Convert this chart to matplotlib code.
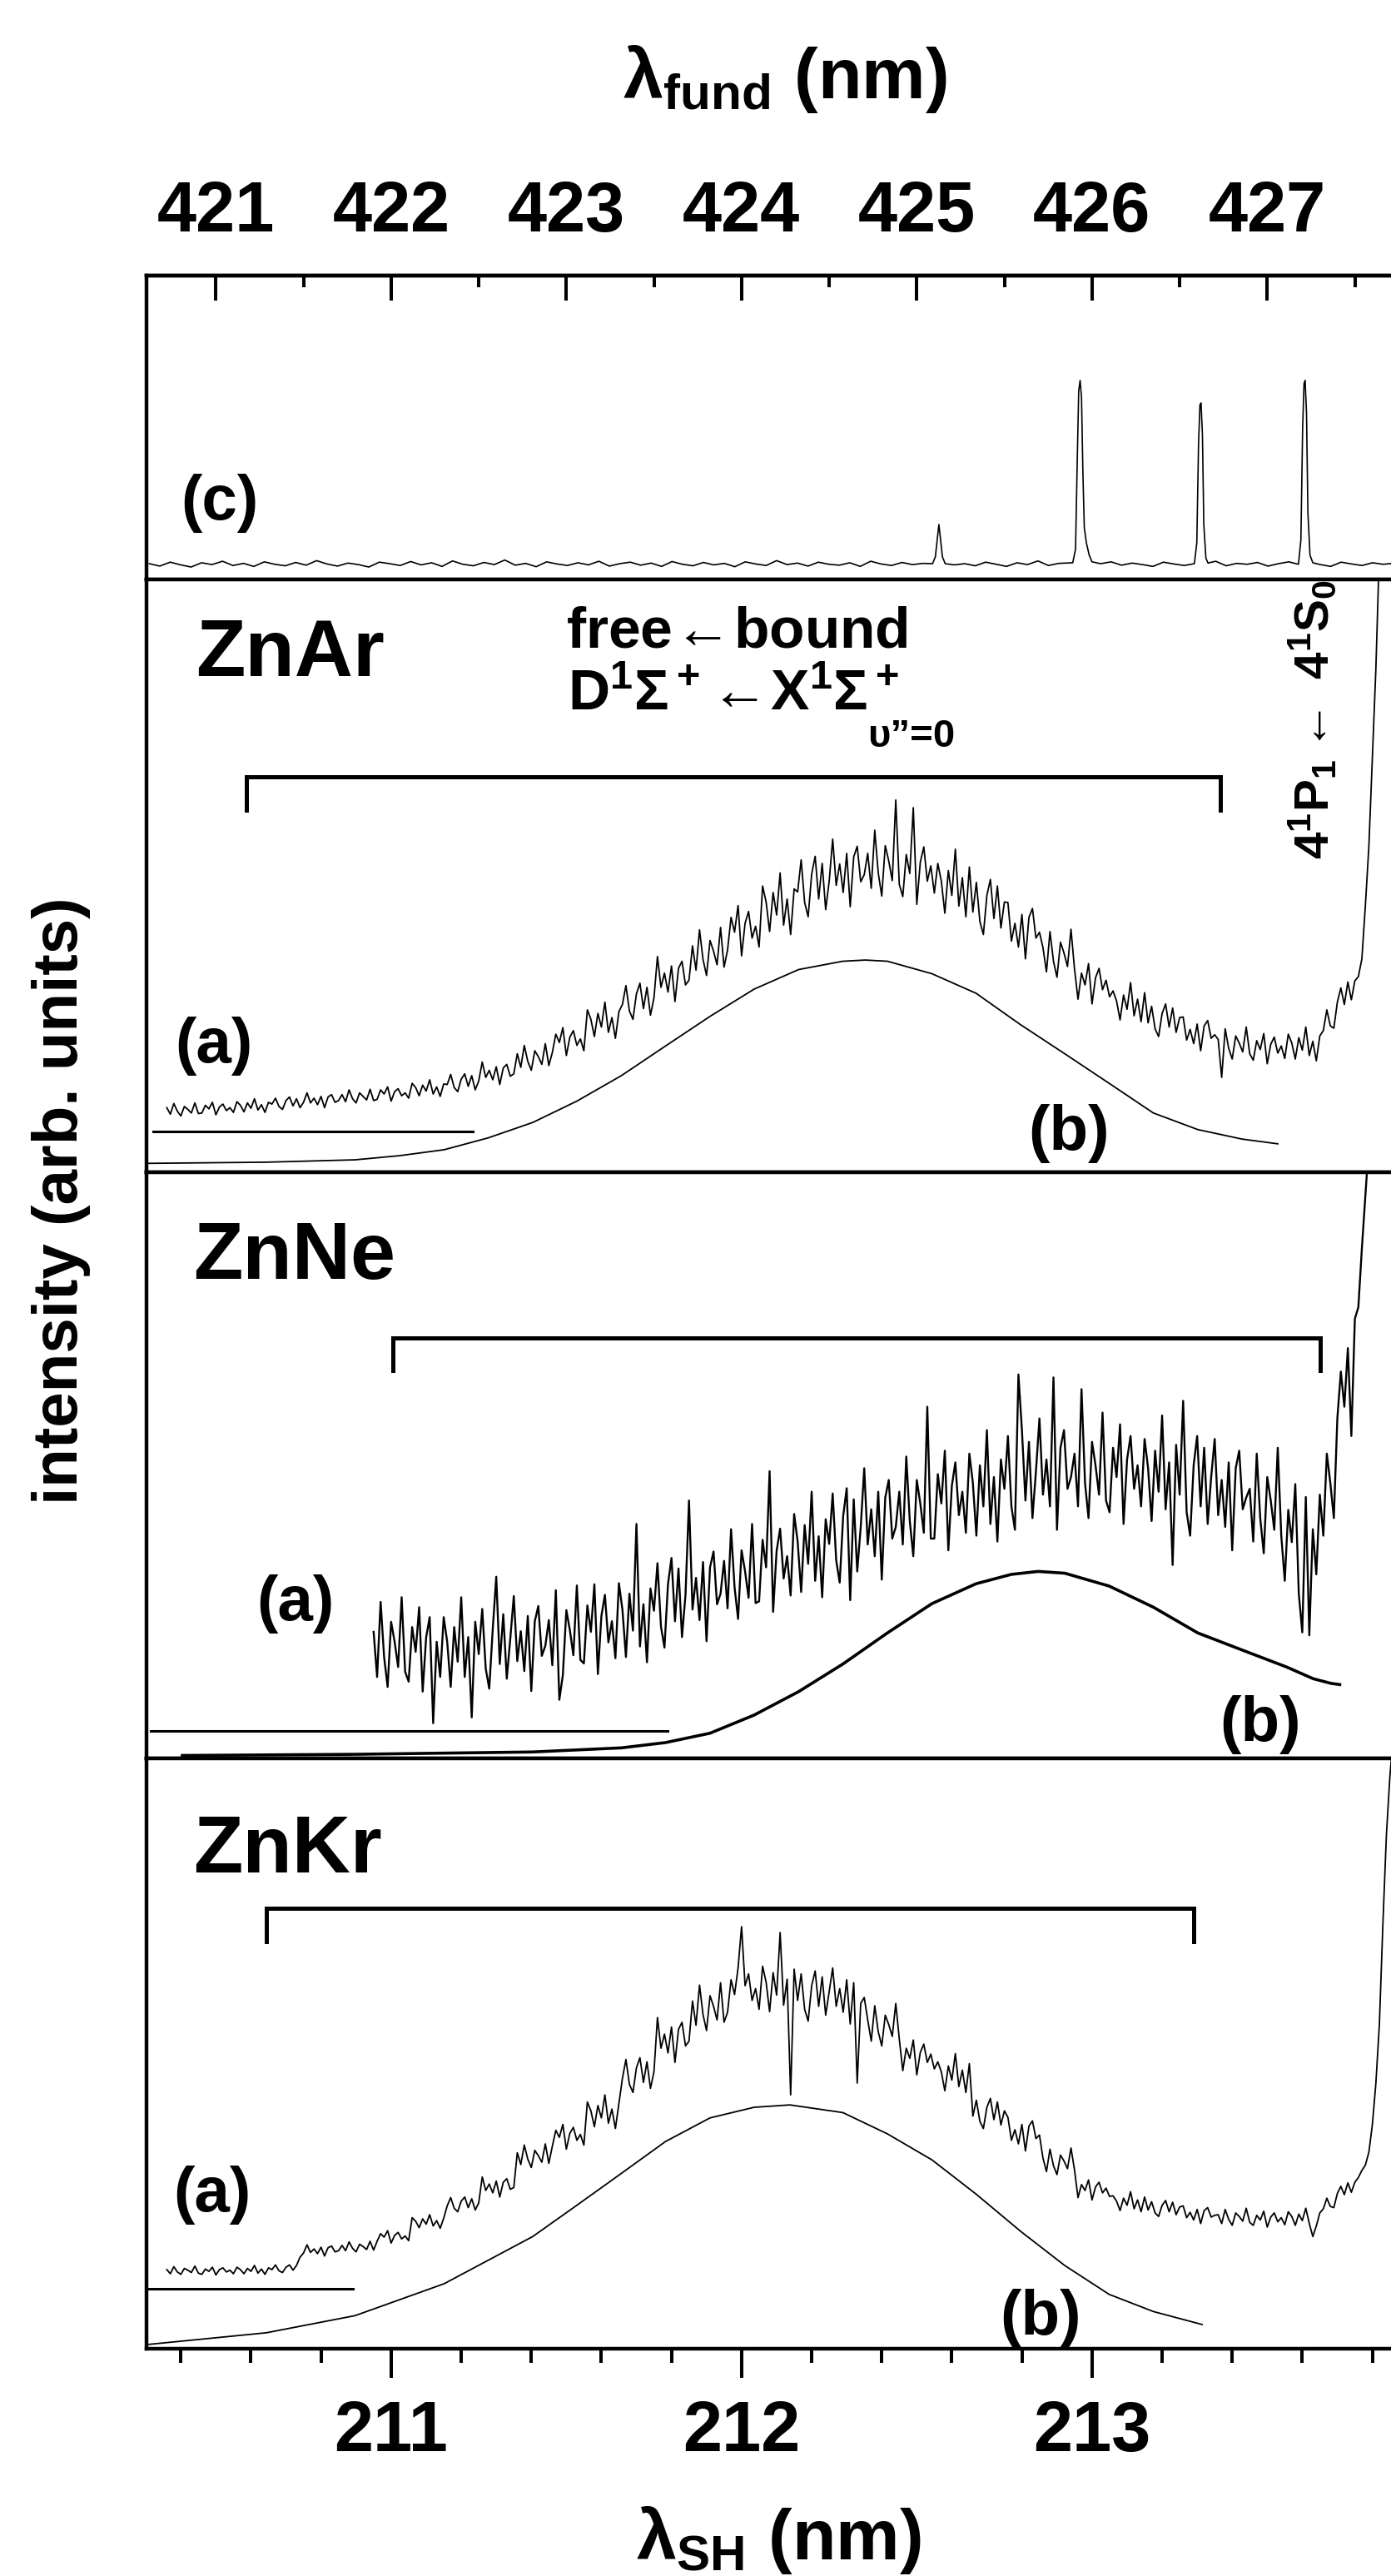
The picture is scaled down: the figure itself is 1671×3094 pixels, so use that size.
import numpy as np
import matplotlib
matplotlib.use("Agg")
import matplotlib.pyplot as plt
from matplotlib.ticker import MultipleLocator

plt.rcParams['font.family'] = ['Liberation Sans', 'DejaVu Sans']
plt.rcParams['font.weight'] = 'bold'
plt.rcParams['axes.labelweight'] = 'bold'
plt.rcParams['mathtext.fontset'] = 'custom'
plt.rcParams['mathtext.rm'] = 'Liberation Sans:bold'
plt.rcParams['mathtext.it'] = 'Liberation Sans:bold'
plt.rcParams['mathtext.bf'] = 'Liberation Sans:bold'
plt.rcParams['mathtext.sf'] = 'Liberation Sans:bold'
plt.rcParams['mathtext.default'] = 'rm'

# ---------------- data (x in nm of second harmonic, y in panel units) -------------
sh_ticks = [211, 212, 213]
fund_ticks = [421, 422, 423, 424, 425, 426, 427]

# (c) fundamental laser scan: flat baseline + narrow lines
c_base = [0.052, 0.044, 0.057, 0.048, 0.041, 0.055, 0.049, 0.060, 0.046, 0.053,
          0.043, 0.058, 0.050, 0.045, 0.056, 0.047, 0.062, 0.051, 0.044, 0.054,
          0.049, 0.041, 0.057, 0.052, 0.046, 0.059, 0.048, 0.055, 0.043, 0.061,
          0.050, 0.045, 0.056, 0.049, 0.064, 0.047, 0.053, 0.042, 0.058, 0.051,
          0.046, 0.055, 0.048, 0.060, 0.044, 0.052, 0.057, 0.047, 0.054, 0.043,
          0.059, 0.050, 0.045, 0.056, 0.048, 0.053, 0.042, 0.058, 0.051, 0.046,
          0.062, 0.049, 0.054, 0.044, 0.057, 0.050, 0.047, 0.055, 0.043, 0.060,
          0.051, 0.046, 0.056, 0.049, 0.053, 0.044, 0.058, 0.048, 0.052, 0.045,
          0.057, 0.050, 0.043, 0.055, 0.049, 0.061, 0.046, 0.053, 0.048, 0.056,
          0.044, 0.052, 0.058, 0.047, 0.054, 0.049, 0.043, 0.057, 0.051, 0.046,
          0.055, 0.048, 0.060, 0.045, 0.053, 0.050, 0.056, 0.044, 0.052, 0.058,
          0.047, 0.054, 0.049, 0.043, 0.057, 0.051, 0.046, 0.055, 0.050, 0.053]
c_base_range = (210.31, 213.86)
c_peak_centers = [212.563, 212.970, 213.310, 213.608]
c_peak_x = [212.545, 212.553, 212.559, 212.563, 212.567, 212.573, 212.581,
            212.945, 212.953, 212.958, 212.962, 212.966, 212.970, 212.974, 212.978,
            212.984, 212.992, 213.000,
            213.292, 213.299, 213.304, 213.308, 213.311, 213.315, 213.319, 213.325,
            213.331,
            213.589, 213.596, 213.601, 213.605, 213.608, 213.612, 213.616, 213.622,
            213.630]
c_peak_y = [0.052, 0.075, 0.140, 0.181, 0.140, 0.075, 0.052,
            0.055, 0.100, 0.400, 0.620, 0.655, 0.600, 0.350, 0.170,
            0.120, 0.080, 0.058,
            0.052, 0.120, 0.450, 0.575, 0.581, 0.480, 0.180, 0.070,
            0.054,
            0.050, 0.130, 0.500, 0.645, 0.655, 0.550, 0.220, 0.080,
            0.055]

# ZnAr, trace (a): one value every 0.01 nm
ar_a_range = (210.36, 213.82)
ar_a = [0.109, 0.098, 0.116, 0.103, 0.095, 0.111, 0.106, 0.100, 0.117, 0.099,
        0.100, 0.113, 0.107, 0.118, 0.097, 0.110, 0.115, 0.104, 0.109, 0.101,
        0.119, 0.113, 0.102, 0.117, 0.108, 0.124, 0.105, 0.114, 0.101, 0.118,
        0.115, 0.125, 0.111, 0.106, 0.121, 0.127, 0.112, 0.124, 0.109, 0.118,
        0.134, 0.117, 0.125, 0.114, 0.128, 0.109, 0.127, 0.131, 0.118, 0.121,
        0.131, 0.119, 0.139, 0.124, 0.117, 0.134, 0.128, 0.122, 0.140, 0.121,
        0.123, 0.139, 0.132, 0.144, 0.120, 0.136, 0.141, 0.129, 0.134, 0.125,
        0.150, 0.143, 0.129, 0.147, 0.137, 0.156, 0.132, 0.144, 0.128, 0.149,
        0.148, 0.165, 0.143, 0.136, 0.157, 0.166, 0.145, 0.163, 0.139, 0.154,
        0.186, 0.160, 0.172, 0.156, 0.178, 0.148, 0.176, 0.182, 0.162, 0.166,
        0.200, 0.177, 0.214, 0.187, 0.172, 0.205, 0.195, 0.182, 0.217, 0.180,
        0.202, 0.233, 0.219, 0.244, 0.197, 0.228, 0.239, 0.214, 0.225, 0.205,
        0.274, 0.258, 0.229, 0.268, 0.245, 0.287, 0.236, 0.261, 0.226, 0.271,
        0.283, 0.315, 0.272, 0.258, 0.301, 0.319, 0.276, 0.312, 0.265, 0.294,
        0.364, 0.312, 0.336, 0.304, 0.348, 0.288, 0.344, 0.356, 0.316, 0.324,
        0.382, 0.341, 0.409, 0.359, 0.332, 0.391, 0.373, 0.350, 0.413, 0.346,
        0.375, 0.430, 0.405, 0.450, 0.365, 0.420, 0.440, 0.395, 0.415, 0.380,
        0.483, 0.456, 0.406, 0.472, 0.434, 0.505, 0.417, 0.461, 0.401, 0.478,
        0.473, 0.527, 0.455, 0.431, 0.503, 0.533, 0.461, 0.521, 0.443, 0.491,
        0.562, 0.484, 0.520, 0.472, 0.538, 0.448, 0.532, 0.550, 0.490, 0.502,
        0.538, 0.479, 0.577, 0.505, 0.466, 0.551, 0.525, 0.492, 0.628, 0.486,
        0.465, 0.536, 0.504, 0.615, 0.452, 0.523, 0.549, 0.491, 0.517, 0.471,
        0.521, 0.491, 0.437, 0.509, 0.467, 0.545, 0.449, 0.497, 0.431, 0.515,
        0.439, 0.489, 0.423, 0.401, 0.467, 0.494, 0.428, 0.483, 0.412, 0.456,
        0.455, 0.390, 0.420, 0.380, 0.435, 0.360, 0.430, 0.445, 0.395, 0.405,
        0.379, 0.338, 0.406, 0.356, 0.329, 0.388, 0.370, 0.347, 0.410, 0.343,
        0.292, 0.336, 0.316, 0.352, 0.284, 0.328, 0.344, 0.308, 0.324, 0.296,
        0.306, 0.289, 0.257, 0.299, 0.275, 0.320, 0.264, 0.292, 0.254, 0.303,
        0.252, 0.280, 0.242, 0.229, 0.268, 0.284, 0.245, 0.277, 0.236, 0.261,
        0.262, 0.223, 0.241, 0.217, 0.250, 0.205, 0.247, 0.256, 0.226, 0.232,
        0.224, 0.160, 0.242, 0.209, 0.191, 0.230, 0.218, 0.203, 0.245, 0.200,
        0.189, 0.222, 0.207, 0.234, 0.183, 0.216, 0.228, 0.201, 0.213, 0.192,
        0.233, 0.218, 0.191, 0.227, 0.206, 0.245, 0.197, 0.221, 0.188, 0.230,
        0.239, 0.274, 0.247, 0.243, 0.287, 0.311, 0.283, 0.321, 0.291, 0.323,
        0.330, 0.360, 0.450, 0.550, 0.700, 0.850, 1.050]
ar_b_x = [210.303, 210.644, 210.897, 211.024, 211.151, 211.277, 211.404, 211.530,
          211.657, 211.783, 211.910, 212.036, 212.163, 212.289, 212.353, 212.416,
          212.543, 212.669, 212.796, 212.922, 213.049, 213.175, 213.302, 213.428,
          213.530]
ar_b_y = [0.015, 0.017, 0.021, 0.028, 0.038, 0.058, 0.084, 0.120,
          0.163, 0.213, 0.263, 0.309, 0.342, 0.356, 0.358, 0.356,
          0.335, 0.302, 0.249, 0.200, 0.150, 0.100, 0.072, 0.056,
          0.048]

# ZnNe, trace (a): one value every 0.01 nm
ne_a_range = (210.95, 213.79)
ne_a = [0.216, 0.139, 0.267, 0.173, 0.122, 0.233, 0.199, 0.156, 0.275, 0.148,
        0.131, 0.224, 0.182, 0.258, 0.114, 0.207, 0.241, 0.060, 0.199, 0.139,
        0.241, 0.199, 0.122, 0.224, 0.165, 0.275, 0.139, 0.207, 0.070, 0.233,
        0.178, 0.255, 0.153, 0.119, 0.221, 0.310, 0.161, 0.246, 0.136, 0.204,
        0.277, 0.166, 0.217, 0.149, 0.243, 0.115, 0.234, 0.260, 0.175, 0.192,
        0.236, 0.159, 0.287, 0.100, 0.142, 0.253, 0.219, 0.176, 0.295, 0.168,
        0.162, 0.261, 0.216, 0.297, 0.144, 0.243, 0.279, 0.198, 0.234, 0.171,
        0.299, 0.254, 0.173, 0.281, 0.218, 0.400, 0.191, 0.263, 0.164, 0.290,
        0.252, 0.333, 0.225, 0.189, 0.297, 0.342, 0.234, 0.324, 0.207, 0.279,
        0.440, 0.254, 0.308, 0.236, 0.335, 0.200, 0.326, 0.353, 0.263, 0.281,
        0.337, 0.256, 0.391, 0.292, 0.238, 0.355, 0.319, 0.274, 0.400, 0.265,
        0.268, 0.373, 0.326, 0.490, 0.250, 0.354, 0.392, 0.307, 0.345, 0.278,
        0.417, 0.370, 0.284, 0.398, 0.332, 0.455, 0.303, 0.379, 0.275, 0.408,
        0.366, 0.452, 0.338, 0.300, 0.414, 0.461, 0.270, 0.442, 0.319, 0.395,
        0.495, 0.365, 0.425, 0.345, 0.455, 0.305, 0.445, 0.475, 0.375, 0.395,
        0.455, 0.365, 0.515, 0.405, 0.345, 0.475, 0.435, 0.385, 0.600, 0.375,
        0.375, 0.485, 0.435, 0.525, 0.355, 0.465, 0.505, 0.415, 0.455, 0.385,
        0.520, 0.470, 0.380, 0.500, 0.430, 0.560, 0.400, 0.480, 0.370, 0.510,
        0.460, 0.550, 0.430, 0.390, 0.655, 0.560, 0.440, 0.540, 0.410, 0.490,
        0.580, 0.450, 0.510, 0.430, 0.650, 0.390, 0.530, 0.560, 0.460, 0.480,
        0.520, 0.430, 0.630, 0.470, 0.410, 0.540, 0.500, 0.450, 0.590, 0.440,
        0.420, 0.530, 0.480, 0.570, 0.400, 0.510, 0.550, 0.460, 0.500, 0.430,
        0.545, 0.495, 0.405, 0.525, 0.455, 0.585, 0.425, 0.505, 0.330, 0.535,
        0.450, 0.610, 0.420, 0.380, 0.500, 0.550, 0.430, 0.530, 0.400, 0.480,
        0.545, 0.415, 0.475, 0.395, 0.505, 0.355, 0.495, 0.525, 0.425, 0.445,
        0.460, 0.370, 0.520, 0.410, 0.350, 0.480, 0.440, 0.390, 0.530, 0.380,
        0.303, 0.424, 0.369, 0.468, 0.281, 0.215, 0.446, 0.210, 0.391, 0.314,
        0.450, 0.380, 0.520, 0.470, 0.410, 0.580, 0.660, 0.600, 0.700, 0.550,
        0.750, 0.770, 0.870, 0.960, 1.050]
ne_b_x = [210.404, 210.897, 211.404, 211.657, 211.783, 211.910, 212.036, 212.163,
          212.289, 212.416, 212.543, 212.669, 212.770, 212.846, 212.922, 213.049,
          213.175, 213.302, 213.428, 213.555, 213.631, 213.682, 213.707]
ne_b_y = [0.005, 0.007, 0.011, 0.018, 0.027, 0.043, 0.074, 0.114,
          0.161, 0.214, 0.264, 0.298, 0.314, 0.319, 0.316, 0.294,
          0.258, 0.214, 0.185, 0.156, 0.136, 0.128, 0.126]

# ZnKr, trace (a): one value every 0.01 nm
kr_a_range = (210.36, 213.86)
kr_a = [0.134, 0.127, 0.139, 0.130, 0.126, 0.136, 0.133, 0.129, 0.140, 0.128,
        0.126, 0.135, 0.131, 0.138, 0.125, 0.134, 0.137, 0.130, 0.133, 0.127,
        0.138, 0.134, 0.127, 0.136, 0.131, 0.141, 0.128, 0.135, 0.126, 0.137,
        0.134, 0.142, 0.132, 0.129, 0.138, 0.142, 0.133, 0.141, 0.155, 0.162,
        0.176, 0.163, 0.169, 0.161, 0.172, 0.157, 0.171, 0.174, 0.164, 0.166,
        0.175, 0.166, 0.181, 0.170, 0.164, 0.177, 0.173, 0.168, 0.182, 0.167,
        0.182, 0.195, 0.189, 0.200, 0.179, 0.192, 0.197, 0.186, 0.191, 0.183,
        0.222, 0.216, 0.205, 0.220, 0.211, 0.227, 0.208, 0.217, 0.204, 0.221,
        0.242, 0.256, 0.238, 0.232, 0.250, 0.257, 0.239, 0.254, 0.235, 0.247,
        0.291, 0.268, 0.279, 0.264, 0.284, 0.257, 0.282, 0.288, 0.270, 0.273,
        0.332, 0.312, 0.345, 0.321, 0.307, 0.336, 0.327, 0.316, 0.347, 0.314,
        0.343, 0.370, 0.358, 0.380, 0.338, 0.365, 0.375, 0.353, 0.363, 0.345,
        0.418, 0.403, 0.376, 0.412, 0.391, 0.430, 0.382, 0.406, 0.373, 0.415,
        0.458, 0.490, 0.448, 0.434, 0.476, 0.493, 0.451, 0.486, 0.441, 0.469,
        0.561, 0.509, 0.533, 0.501, 0.545, 0.485, 0.541, 0.553, 0.513, 0.521,
        0.589, 0.548, 0.616, 0.566, 0.539, 0.598, 0.580, 0.557, 0.620, 0.553,
        0.570, 0.625, 0.600, 0.645, 0.715, 0.615, 0.635, 0.590, 0.610, 0.575,
        0.648, 0.621, 0.571, 0.637, 0.599, 0.705, 0.582, 0.626, 0.430, 0.643,
        0.590, 0.635, 0.575, 0.555, 0.615, 0.640, 0.580, 0.630, 0.565, 0.605,
        0.645, 0.580, 0.610, 0.570, 0.625, 0.550, 0.620, 0.450, 0.585, 0.595,
        0.557, 0.521, 0.581, 0.537, 0.513, 0.565, 0.549, 0.529, 0.585, 0.525,
        0.471, 0.509, 0.492, 0.523, 0.464, 0.502, 0.516, 0.485, 0.499, 0.474,
        0.486, 0.469, 0.437, 0.479, 0.455, 0.500, 0.444, 0.472, 0.434, 0.483,
        0.394, 0.421, 0.385, 0.373, 0.409, 0.424, 0.388, 0.418, 0.379, 0.403,
        0.392, 0.353, 0.371, 0.347, 0.380, 0.335, 0.377, 0.386, 0.356, 0.362,
        0.323, 0.300, 0.338, 0.310, 0.295, 0.328, 0.318, 0.305, 0.340, 0.303,
        0.256, 0.278, 0.268, 0.286, 0.252, 0.274, 0.282, 0.264, 0.272, 0.258,
        0.259, 0.250, 0.234, 0.255, 0.243, 0.266, 0.237, 0.252, 0.232, 0.257,
        0.235, 0.249, 0.230, 0.224, 0.243, 0.251, 0.232, 0.248, 0.227, 0.240,
        0.242, 0.222, 0.231, 0.218, 0.236, 0.212, 0.234, 0.239, 0.223, 0.226,
        0.227, 0.212, 0.236, 0.219, 0.209, 0.230, 0.224, 0.216, 0.238, 0.214,
        0.209, 0.226, 0.218, 0.233, 0.206, 0.223, 0.230, 0.215, 0.222, 0.210,
        0.232, 0.224, 0.209, 0.228, 0.217, 0.238, 0.212, 0.190, 0.208, 0.230,
        0.237, 0.255, 0.241, 0.239, 0.263, 0.275, 0.261, 0.281, 0.265, 0.282,
        0.290, 0.302, 0.311, 0.333, 0.380, 0.450, 0.550, 0.720, 0.870, 0.970,
        1.040]
kr_b_x = [210.303, 210.644, 210.897, 211.151, 211.404, 211.530, 211.657, 211.783,
          211.910, 212.036, 212.138, 212.289, 212.416, 212.543, 212.669, 212.796,
          212.922, 213.049, 213.175, 213.314]
kr_b_y = [0.007, 0.027, 0.056, 0.110, 0.190, 0.243, 0.297, 0.351,
          0.391, 0.409, 0.413, 0.400, 0.364, 0.320, 0.262, 0.199,
          0.141, 0.092, 0.063, 0.041]

# zero lines, brackets (x0, x1, y_top, y_foot)
zero_lines = {'ar': (210.320, 211.234, 0.069), 'ne': (210.315, 211.788, 0.047),
              'kr': (210.303, 210.890, 0.101)}
brackets = {'ar': (210.586, 213.365, 0.667, 0.611), 'ne': (211.006, 213.651, 0.717, 0.662),
            'kr': (210.644, 213.289, 0.746, 0.690)}

# ---------------- layout ----------------
W, H = 1671, 3094
LEFT, RIGHT = 176, 1676
rows = {'c': (331, 696), 'ar': (696, 1408), 'ne': (1408, 2112), 'kr': (2112, 2821)}
XLIM = (210.302, 213.865)
SPINE_W = 3.2

fig = plt.figure(figsize=(W / 100, H / 100), dpi=100)
axes = {}
for key, (top, bot) in rows.items():
    ax = fig.add_axes([LEFT / W, 1 - bot / H, (RIGHT - LEFT) / W, (bot - top) / H])
    ax.set_xlim(*XLIM)
    ax.set_ylim(0, 1)
    ax.set_yticks([])
    ax.tick_params(axis='x', which='both', bottom=False, labelbottom=False)
    for sp in ax.spines.values():
        sp.set_linewidth(SPINE_W)
    axes[key] = ax

ax_c, ax_ar, ax_ne, ax_kr = axes['c'], axes['ar'], axes['ne'], axes['kr']

# panel (c)
xb = np.linspace(c_base_range[0], c_base_range[1], len(c_base))
keep = np.min(np.abs(xb[:, None] - np.array(c_peak_centers)[None, :]), axis=1) > 0.035
cx = np.concatenate([xb[keep], c_peak_x])
cy = np.concatenate([np.array(c_base)[keep], c_peak_y])
order = np.argsort(cx)
ax_c.plot(cx[order], cy[order], color='black', lw=1.2)
ax_c.text(210.51, 0.25, '(c)', fontsize=55, ha='center', va='center')

# spectra panels
traces = {
    'ar': (ar_a_range, ar_a, ar_b_x, ar_b_y, 1.3, 1.3),
    'ne': (ne_a_range, ne_a, ne_b_x, ne_b_y, 1.7, 2.6),
    'kr': (kr_a_range, kr_a, kr_b_x, kr_b_y, 1.3, 1.3),
}
for key, (rng, ya, bx, by, lwa, lwb) in traces.items():
    ax = axes[key]
    xa = np.linspace(rng[0], rng[1], len(ya))
    ax.plot(xa, ya, color='black', lw=lwa)
    ax.plot(bx, by, color='black', lw=lwb)
    x0, x1, yz = zero_lines[key]
    ax.plot([x0, x1], [yz, yz], color='black', lw=2.2)
    bx0, bx1, bt, bf = brackets[key]
    ax.plot([bx0, bx0, bx1, bx1], [bf, bt, bt, bf], color='black', lw=3.6,
            solid_joinstyle='miter')

names = {'ar': ('ZnAr', 210.442, 0.837), 'ne': ('ZnNe', 210.436, 0.818),
         'kr': ('ZnKr', 210.436, 0.807)}
for key, (name, x, y) in names.items():
    axes[key].text(x, y, name, fontsize=70, ha='left', va='baseline')

labels_a = {'ar': (210.495, 0.213), 'ne': (210.728, 0.264), 'kr': (210.49, 0.26)}
labels_b = {'ar': (212.935, 0.065), 'ne': (213.481, 0.057), 'kr': (212.854, 0.052)}
for key in labels_a:
    axes[key].text(*labels_a[key], '(a)', fontsize=55, ha='center', va='center')
    axes[key].text(*labels_b[key], '(b)', fontsize=55, ha='center', va='center')

ax_ar.text(211.499, 0.886, r'free$\!\leftarrow\!$bound', fontsize=50, ha='left',
           va='baseline')
ax_ar.text(211.505, 0.780, r'D$^1\Sigma^+\!\leftarrow\!$X$^1\Sigma^+$', fontsize=50,
           ha='left', va='baseline')
ax_ar.text(212.36, 0.718, 'υ”=0', fontsize=34, ha='left', va='baseline')
ax_ar.text(213.631, 0.764, r'4$^1$P$_1\leftarrow$ 4$^1$S$_0$', fontsize=42,
           rotation=90, ha='center', va='center')

# bottom axis (second harmonic)
ax_kr.tick_params(axis='x', which='both', bottom=True, labelbottom=True)
ax_kr.set_xticks(sh_ticks, [str(t) for t in sh_ticks])
ax_kr.xaxis.set_minor_locator(MultipleLocator(0.2))
ax_kr.tick_params(axis='x', which='major', direction='out', length=25, width=2.9,
                  pad=19, labelsize=61)
ax_kr.tick_params(axis='x', which='minor', direction='out', length=12, width=2.9)
ax_kr.set_xlabel(r'λ$_{SH}$ (nm)', fontsize=62)
ax_kr.xaxis.set_label_coords(0.506, -0.262)

# top axis (fundamental = 2 x second harmonic)
sec = ax_c.secondary_xaxis('top', functions=(lambda s: 2 * s, lambda f: f / 2))
sec.set_xticks(fund_ticks, [str(t) for t in fund_ticks])
sec.xaxis.set_minor_locator(MultipleLocator(0.5))
sec.tick_params(which='major', direction='in', length=21.6, width=2.9, pad=25,
                labelsize=61)
sec.tick_params(which='minor', direction='in', length=10, width=2.9)
sec.spines['top'].set_linewidth(SPINE_W)
sec.set_xlabel(r'λ$_{fund}$ (nm)', fontsize=62)
sec.xaxis.set_label_coords(0.511, 1.529, transform=ax_c.transAxes)
sec.xaxis.label.set_va('bottom')

ax_ne.set_ylabel('intensity (arb. units)', fontsize=55)
ax_ne.yaxis.set_label_coords(-0.0447, 0.952)

fig.savefig('out.png', dpi=100)
